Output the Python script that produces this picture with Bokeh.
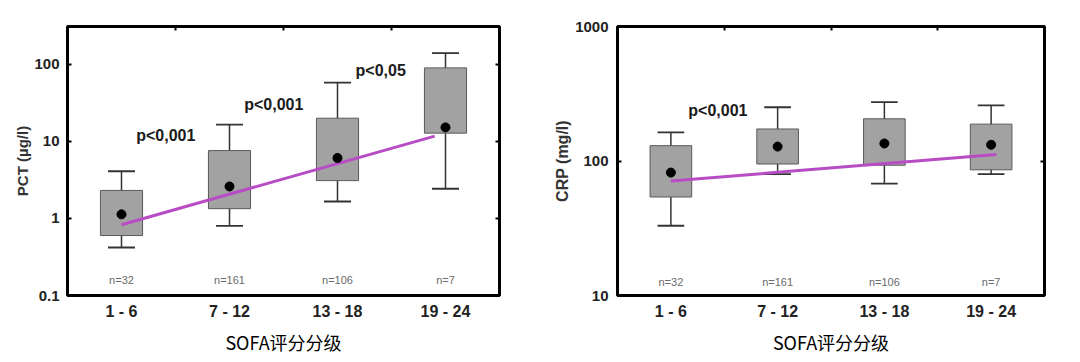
from bokeh.plotting import figure
from bokeh.layouts import row
from bokeh.models import (Range1d, FixedTicker, CustomJSTickFormatter,
                          LogAxis, LinearAxis, Title)
from bokeh.core.properties import value
from bokeh.embed import file_html
from bokeh.resources import INLINE

categories = ["1 - 6", "7 - 12", "13 - 18", "19 - 24"]
n_labels = ["n=32", "n=161", "n=106", "n=7"]
x_title = "SOFA评分分级"

# PCT (µg/l)
pct_low = [0.42, 0.8, 1.66, 2.43]
pct_q1 = [0.6, 1.34, 3.1, 12.8]
pct_q3 = [2.31, 7.6, 20.0, 90.0]
pct_high = [4.1, 16.5, 58.0, 140.0]
pct_mean = [1.13, 2.6, 6.1, 15.2]
pct_trend = [0.83, 11.7]
pct_p_labels = ["p<0,001", "p<0,001", "p<0,05"]
pct_p_y = [12.0, 30.0, 83.0]
pct_n_y = 0.157
pct_ticks = [0.1, 1, 10, 100]

# CRP (mg/l)
crp_low = [33.0, 80.0, 68.0, 80.0]
crp_q1 = [54.0, 95.0, 93.0, 86.0]
crp_q3 = [130.0, 173.0, 206.0, 188.0]
crp_high = [163.0, 251.0, 274.0, 259.0]
crp_mean = [82.0, 128.0, 135.0, 132.0]
crp_trend = [71.0, 112.0]
crp_p_labels = ["p<0,001"]
crp_p_y = [237.0]
crp_n_y = 12.7
crp_ticks = [10, 100, 1000]

BOLD_FONT = "Liberation Sans"
NCAT = len(categories)
pos = [i + 0.5 for i in range(NCAT)]  # category centres on the numeric scale


def make_panel(ylabel, ylabel_size, yr, ticks, low, q1, q3, high, mean, trend,
               trend_end_off, p_labels, p_y, p_offs, n_y, width, bl, br,
               lab_standoff, ax_standoff):
    p = figure(x_range=Range1d(0, NCAT), y_range=Range1d(*yr),
               y_axis_type="log", width=width, height=362,
               output_backend="svg", toolbar_location=None,
               min_border_left=bl, min_border_right=br,
               min_border_top=26, min_border_bottom=67)
    p.background_fill_color = "white"
    p.border_fill_color = "white"
    p.outline_line_color = "black"
    p.outline_line_width = 3
    p.xgrid.visible = False
    p.ygrid.visible = False

    cap = 0.125
    # whiskers
    p.segment(x0=pos, x1=pos, y0=low, y1=high, line_color="#333333", line_width=1.5)
    p.segment(x0=[x - cap for x in pos], x1=[x + cap for x in pos], y0=low, y1=low,
              line_color="#333333", line_width=1.8)
    p.segment(x0=[x - cap for x in pos], x1=[x + cap for x in pos], y0=high, y1=high,
              line_color="#333333", line_width=1.8)
    # boxes
    p.vbar(x=pos, top=q3, bottom=q1, width=0.39,
           fill_color="#a2a2a2", line_color="#5a5a5a", line_width=1)
    # trend line
    p.line(x=[pos[0], pos[-1] + trend_end_off], y=trend,
           line_color="#b84cc4", line_width=3)
    # means
    p.scatter(x=pos, y=mean, size=9, fill_color="black", line_color="black")
    # p-values
    p.text(x=[pos[i] + p_offs[i] for i in range(len(p_labels))], y=p_y,
           text=p_labels, text_font=value(BOLD_FONT), text_font_style="bold",
           text_font_size="16px", text_color="#1a1a1a",
           text_align="center", text_baseline="middle")
    # n labels
    p.text(x=pos, y=[n_y] * NCAT, text=n_labels,
           text_font=value(BOLD_FONT), text_font_size="11px", text_color="#6a6a6a",
           text_align="center", text_baseline="middle")

    ya = p.yaxis[0]
    ya.ticker = FixedTicker(ticks=ticks)
    ya.formatter = CustomJSTickFormatter(code="return tick.toString();")
    ya.minor_tick_line_color = None
    ya.major_tick_in = 4
    ya.major_tick_out = 0
    ya.major_tick_line_color = "black"
    ya.major_tick_line_width = 2
    ya.axis_line_color = None
    ya.major_label_text_font = BOLD_FONT
    ya.major_label_text_font_style = "bold"
    ya.major_label_text_font_size = "15px"
    ya.major_label_text_color = "#222222"
    ya.major_label_standoff = lab_standoff

    # y-axis title, sitting a little below the frame's middle as in the reference
    p.add_layout(Title(text=ylabel, align="center", offset=-25, standoff=ax_standoff,
                       text_font=BOLD_FONT, text_font_style="bold",
                       text_font_size=ylabel_size, text_color="#333333"), "left")

    xa = p.xaxis[0]
    xa.ticker = FixedTicker(ticks=pos)
    xa.formatter = CustomJSTickFormatter(args=dict(labels=categories),
                                         code="return labels[Math.floor(tick)] || '';")
    xa.axis_line_color = None
    xa.major_tick_line_color = None
    xa.minor_tick_line_color = None
    xa.major_label_text_font = BOLD_FONT
    xa.major_label_text_font_style = "bold"
    xa.major_label_text_font_size = "16px"
    xa.major_label_text_color = "#222222"
    xa.major_label_standoff = 1
    xa.axis_label = x_title
    xa.axis_label_text_font = "Noto Sans CJK SC"
    xa.axis_label_text_font_style = "normal"
    xa.axis_label_text_font_size = "18px"
    xa.axis_label_text_color = "black"
    xa.axis_label_standoff = 6

    # frame tick marks on right and top (no labels)
    blank = CustomJSTickFormatter(code="return '';")
    ra = LogAxis(ticker=FixedTicker(ticks=ticks), formatter=blank,
                 major_tick_in=4, major_tick_out=0, major_label_standoff=0,
                 major_tick_line_width=2, minor_tick_line_color=None,
                 axis_line_color=None)
    p.add_layout(ra, "right")
    ta = LinearAxis(ticker=FixedTicker(ticks=list(range(1, NCAT))), formatter=blank,
                    major_tick_in=4, major_tick_out=0, major_label_standoff=0,
                    major_tick_line_width=2, minor_tick_line_color=None,
                    axis_line_color=None)
    p.add_layout(ta, "above")
    return p


p1 = make_panel("PCT (µg/l)", "15px", (0.1, 310), pct_ticks, pct_low, pct_q1, pct_q3,
                pct_high, pct_mean, pct_trend, -0.1, pct_p_labels, pct_p_y,
                [0.41, 0.41, 0.40], pct_n_y, 540, 67, 41, 8, 2)
p2 = make_panel("CRP (mg/l)", "16px", (10, 1000), crp_ticks, crp_low, crp_q1, crp_q3,
                crp_high, crp_mean, crp_trend, 0.05, crp_p_labels, crp_p_y, [0.44],
                crp_n_y, 540, 77, 36, 9, 4)

layout = row(p1, p2, spacing=0)
open("out.html", "w").write(file_html(layout, INLINE))
